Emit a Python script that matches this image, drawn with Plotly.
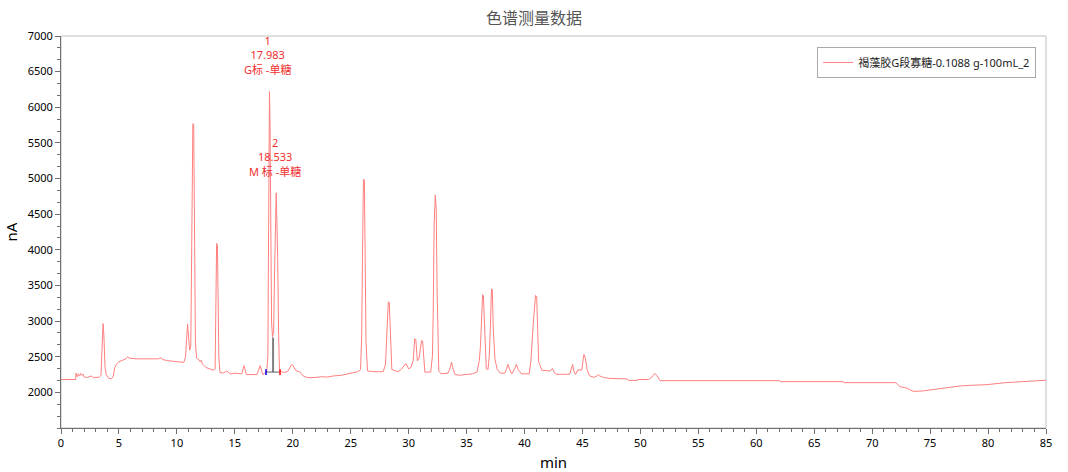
import plotly.graph_objects as go

# retention time (min) and detector signal (nA)
time_min = [0, 1.2, 1.27, 1.3, 1.4, 1.5, 1.6, 1.7, 1.8, 1.9, 2.0, 2.3, 2.6, 2.8, 3.3, 3.45, 3.55, 3.63, 3.7, 3.8,
            3.9, 4.1, 4.35, 4.5, 4.65, 4.8, 5.0, 5.3, 5.6, 5.75, 5.9, 6.5, 7.5, 8.4, 8.6, 8.8, 9.2, 9.8, 10.3, 10.6,
            10.75, 10.85, 10.92, 11.0, 11.1, 11.2, 11.3, 11.38, 11.45, 11.52, 11.6, 11.7, 11.9, 12.0, 12.1, 12.2,
            12.5, 12.8, 13.2, 13.3, 13.37, 13.43, 13.5, 13.56, 13.62, 13.72, 14.0, 14.3, 14.6, 15.0, 15.6, 15.8,
            16.0, 16.9, 17.2, 17.4, 17.75, 17.85, 17.9, 17.95, 17.99, 18.04, 18.1, 18.17, 18.25, 18.35, 18.42,
            18.5, 18.57, 18.63, 18.7, 18.78, 18.85, 19.0, 19.3, 19.6, 19.9, 20.0, 20.3, 20.6, 20.9, 21.2, 21.5,
            22.0, 22.5, 23.0, 23.5, 24.2, 24.9, 25.6, 25.85, 25.95, 26.02, 26.1, 26.18, 26.25, 26.32, 26.45, 27.0,
            27.8, 28.0, 28.15, 28.25, 28.33, 28.42, 28.55, 29.1, 29.4, 29.76, 30.0, 30.2, 30.4, 30.52, 30.62, 30.75,
            30.9, 31.0, 31.12, 31.2, 31.32, 31.4, 31.9, 32.05, 32.12, 32.2, 32.3, 32.38, 32.45, 32.53, 32.6, 32.8,
            33.4, 33.6, 33.7, 33.8, 34.0, 34.4, 35.0, 35.5, 35.9, 36.1, 36.2, 36.3, 36.38, 36.45, 36.52, 36.6, 36.7,
            36.85, 36.95, 37.05, 37.15, 37.22, 37.3, 37.45, 37.65, 37.9, 38.3, 38.45, 38.55, 38.7, 38.9, 39.15, 39.3,
            39.45, 39.75, 40.4, 40.55, 40.75, 40.95, 41.05, 41.12, 41.22, 41.5, 41.9, 42.2, 42.4, 42.6, 42.8, 43.9,
            44.05, 44.15, 44.25, 44.4, 44.6, 44.95, 45.05, 45.13, 45.25, 45.4, 45.6, 46.0, 46.25, 46.37, 46.5, 46.8,
            47.4, 48.8, 49.0, 49.7, 49.8, 50.7, 50.9, 51.1, 51.25, 51.4, 51.6, 51.7, 62.0, 62.05, 67.5, 67.55, 72.05,
            72.4, 73.0, 73.55, 74.27, 75.1, 76.1, 77.6, 78.6, 79.9, 81.5, 82.9, 84.75, 85]
signal_nA = [2180, 2180, 2180, 2270, 2220, 2260, 2230, 2265, 2240, 2255, 2215, 2210, 2230, 2210, 2210, 2240, 2600,
             2965, 2800, 2350, 2250, 2200, 2190, 2220, 2350, 2400, 2430, 2450, 2470, 2500, 2480, 2470, 2470, 2470,
             2485, 2460, 2445, 2430, 2420, 2420, 2500, 2900, 2960, 2800, 2590, 2650, 4500, 5770, 5760, 3550, 2700,
             2480, 2460, 2430, 2450, 2400, 2350, 2330, 2310, 2330, 3300, 4090, 4060, 3000, 2500, 2280, 2270, 2300,
             2260, 2270, 2260, 2375, 2250, 2250, 2375, 2250, 2290, 2500, 3700, 5600, 6220, 5760, 4100, 3000, 2780,
             2850, 3600, 4500, 4800, 4400, 3880, 2800, 2320, 2290, 2280, 2300, 2390, 2380, 2300, 2290, 2230, 2210,
             2205, 2210, 2220, 2215, 2230, 2240, 2260, 2290, 2320, 2810, 3960, 4990, 4980, 3500, 2700, 2300, 2290,
             2290, 2390, 2930, 3270, 3260, 2930, 2320, 2290, 2330, 2405, 2330, 2350, 2450, 2752, 2740, 2440, 2480,
             2600, 2728, 2720, 2350, 2285, 2285, 2500, 3100, 4350, 4770, 4560, 3490, 2604, 2300, 2260, 2270, 2350,
             2426, 2350, 2250, 2240, 2250, 2260, 2285, 2450, 2660, 3100, 3370, 3360, 3100, 2660, 2330, 2320, 2500,
             2900, 3453, 3440, 2900, 2460, 2320, 2270, 2270, 2320, 2395, 2330, 2260, 2330, 2395, 2320, 2260, 2260,
             2440, 2960, 3360, 3340, 3000, 2430, 2310, 2300, 2300, 2335, 2270, 2252, 2255, 2340, 2392, 2300, 2252,
             2314, 2314, 2450, 2532, 2480, 2320, 2234, 2210, 2230, 2250, 2230, 2210, 2195, 2190, 2168, 2168, 2180,
             2180, 2200, 2240, 2266, 2240, 2175, 2164, 2164, 2150, 2150, 2136, 2136, 2080, 2060, 2014, 2018, 2038,
             2052, 2090, 2100, 2108, 2136, 2150, 2164, 2170]

series_name = "褐藻胶G段寡糖-0.1088 g-100mL_2"

# integration markers of peak 2
drop_t = [18.3, 18.3]
drop_v = [2284, 2770]
base_t = [17.69, 18.9]
base_v = [2285, 2285]
start_tick_t = [17.69, 17.69]
start_tick_v = [2245, 2325]
end_tick_t = [18.9, 18.9]
end_tick_v = [2245, 2325]

# peak labels
peak_label_t = [17.86, 18.47]
peak_label_v = [6400, 4960]
peak_label_text = ["1<br>17.983<br>G标 -单糖", "2<br>18.533<br>M 标 -单糖"]

x_ticks = list(range(0, 86, 5))
y_ticks = list(range(2000, 7001, 500))

FONT = "Noto Sans, Noto Sans CJK SC, sans-serif"

fig = go.Figure()
fig.add_trace(go.Scatter(x=time_min, y=signal_nA, mode="lines", name=series_name,
                         line=dict(color="#FF7F7F", width=1)))
fig.add_trace(go.Scatter(x=drop_t, y=drop_v, mode="lines", showlegend=False,
                         line=dict(color="#808080", width=2)))
fig.add_trace(go.Scatter(x=base_t, y=base_v, mode="lines", showlegend=False,
                         line=dict(color="#606060", width=1)))
fig.add_trace(go.Scatter(x=start_tick_t, y=start_tick_v, mode="lines", showlegend=False,
                         line=dict(color="#0000FF", width=1.5)))
fig.add_trace(go.Scatter(x=end_tick_t, y=end_tick_v, mode="lines", showlegend=False,
                         line=dict(color="#FF0000", width=1.5)))

for t, v, txt in zip(peak_label_t, peak_label_v, peak_label_text):
    fig.add_annotation(x=t, y=v, xref="x", yref="y", text=txt, showarrow=False,
                       yanchor="bottom", xanchor="center", align="center",
                       font=dict(family=FONT, size=11, color="#F03030"))

fig.update_layout(
    width=1068, height=472,
    margin=dict(l=61, r=22, t=36, b=44, autoexpand=False),
    paper_bgcolor="white", plot_bgcolor="white",
    title=dict(text="色谱测量数据", x=0.5, xanchor="center", y=0.962, yanchor="middle",
               font=dict(family=FONT, size=16, color="#555555")),
    font=dict(family=FONT, size=11, color="black"),
    showlegend=True,
    legend=dict(x=0.99, y=0.972, xanchor="right", yanchor="top",
                bordercolor="#AAAAAA", borderwidth=1, bgcolor="white",
                font=dict(family=FONT, size=11, color="#222222"),
                itemwidth=30, tracegroupgap=0),
    shapes=[dict(type="rect", xref="paper", yref="paper", x0=0, y0=0, x1=1, y1=1,
                 line=dict(color="#C0C0C0", width=1), layer="below")],
)
fig.update_xaxes(range=[0, 85], tickvals=x_ticks, ticks="outside", ticklen=5, tickcolor="#707070",
                 showline=True, linecolor="#707070", linewidth=1, showgrid=False, zeroline=False,
                 automargin=False,
                 minor=dict(dtick=1, ticks="outside", ticklen=3, tickcolor="#707070", showgrid=False),
                 title=dict(text="min", font=dict(family=FONT, size=15, color="black"), standoff=8),
                 tickfont=dict(family=FONT, size=11, color="black"))
fig.update_yaxes(range=[1500, 7000], tickvals=y_ticks, ticks="outside", ticklen=5, tickcolor="#707070",
                 showline=True, linecolor="#707070", linewidth=1, showgrid=False, zeroline=False,
                 automargin=False,
                 minor=dict(tick0=1500, dtick=500 / 3, ticks="outside", ticklen=3, tickcolor="#707070",
                            showgrid=False),
                 title=dict(text="nA", font=dict(family=FONT, size=15, color="black"), standoff=6),
                 tickfont=dict(family=FONT, size=11, color="black"))

fig.write_html("out.html", config={"displayModeBar": False},
               post_script="document.body.style.margin='0px';document.body.style.overflow='hidden';")
